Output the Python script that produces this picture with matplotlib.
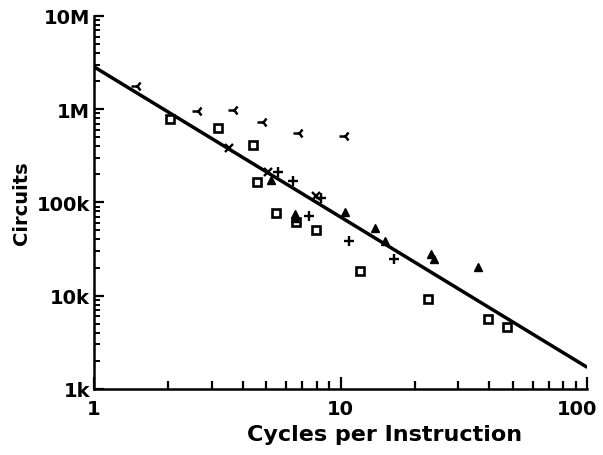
import matplotlib
matplotlib.use("Agg")
import matplotlib.pyplot as plt
import matplotlib.transforms as mtransforms
from matplotlib.ticker import FixedLocator, LogLocator, NullFormatter

# data (cycles per instruction, circuit count)
tri_x = [1.49, 2.65, 3.70, 4.82, 6.79, 10.4]
tri_y = [1.79e6, 9.5e5, 9.77e5, 7.24e5, 5.56e5, 5.13e5]

sq_x = [2.03, 3.18, 4.43, 4.57, 5.46, 6.58, 7.93, 12.0, 22.6, 39.5, 47.2]
sq_y = [7.85e5, 6.3e5, 4.17e5, 1.67e5, 7.7e4, 6.1e4, 5.07e4, 1.83e4, 9.2e3, 5.6e3, 4.6e3]

plus_x = [5.56, 6.40, 8.31, 7.45, 10.8, 16.4]
plus_y = [2.14e5, 1.71e5, 1.11e5, 7.2e4, 3.9e4, 2.48e4]

x_x = [3.54, 5.05, 7.96]
x_y = [3.81e5, 2.14e5, 1.18e5]

up_x = [5.21, 6.50, 6.50, 10.4, 13.8, 15.1, 23.3, 24.0, 35.9]
up_y = [1.74e5, 7.5e4, 6.8e4, 7.85e4, 5.3e4, 3.9e4, 2.8e4, 2.48e4, 2.02e4]

fit_x = [1, 100]
fit_y = [2.84e6, 1.7e3]

y_ticks = [1e3, 1e4, 1e5, 1e6, 1e7]
y_labels = ["1k", "10k", "100k", "1M", "10M"]
x_ticks = [1, 10, 100]
x_labels = ["1", "10", "100"]

plt.rcParams["font.family"] = ["DejaVu Sans"]
plt.rcParams["font.weight"] = "bold"

fig = plt.figure(figsize=(6.03, 4.56), dpi=100)
ax = fig.add_axes([0.156, 0.145, 0.818, 0.818])

ax.plot(fit_x, fit_y, color="black", lw=2.5, solid_capstyle="butt")

ax.plot(tri_x, tri_y, ls="none", marker="3", ms=8, mew=1.8, color="black")
ax.plot(sq_x, sq_y, ls="none", marker="s", ms=5.5, mew=1.9,
        mfc="white", mec="black")
ax.plot(plus_x, plus_y, ls="none", marker="+", ms=6.5, mew=1.7, color="black")
ax.plot(x_x, x_y, ls="none", marker="x", ms=5.5, mew=1.7, color="black")
ax.plot(up_x, up_y, ls="none", marker="^", ms=5.5, color="black")

ax.set_xscale("log")
ax.set_yscale("log")
ax.set_xlim(1, 100)
ax.set_ylim(1e3, 1e7)

ax.xaxis.set_major_locator(FixedLocator(x_ticks))
ax.set_xticklabels(x_labels)
ax.yaxis.set_major_locator(FixedLocator(y_ticks))
ax.set_yticklabels(y_labels)
ax.xaxis.set_minor_locator(LogLocator(base=10, subs=range(2, 10)))
ax.yaxis.set_minor_locator(LogLocator(base=10, subs=range(2, 10)))
ax.xaxis.set_minor_formatter(NullFormatter())
ax.yaxis.set_minor_formatter(NullFormatter())

ax.spines["top"].set_visible(False)
ax.spines["right"].set_visible(False)
ax.spines["left"].set_linewidth(1.8)
ax.spines["bottom"].set_linewidth(1.8)

ax.tick_params(axis="x", which="major", direction="in", length=9, width=1.6,
               pad=7, labelsize=14)
ax.tick_params(axis="x", which="minor", direction="in", length=6, width=1.6)
ax.tick_params(axis="y", which="major", direction="in", length=7, width=1.6,
               pad=3, labelsize=14)
ax.tick_params(axis="y", which="minor", direction="in", length=4, width=1.4)

# the "100" label sits a little left of its tick so it stays inside the page
last = ax.get_xticklabels()[-1]
last.set_transform(last.get_transform() +
                   mtransforms.ScaledTranslation(-10 / 100, 0, fig.dpi_scale_trans))

ax.set_xlabel("Cycles per Instruction", fontsize=16, fontweight="bold")
ax.xaxis.set_label_coords(0.588, -0.095)
ax.set_ylabel("Circuits", fontsize=14, fontweight="bold", labelpad=4)

fig.savefig("out.png", dpi=100)
